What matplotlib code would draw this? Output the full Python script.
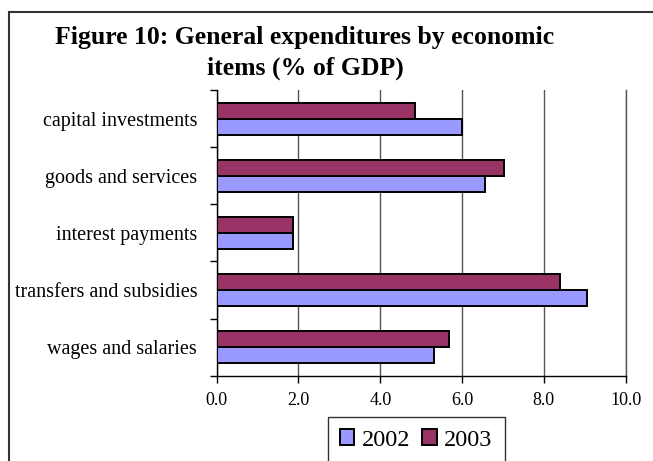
import numpy as np
import matplotlib.pyplot as plt
from matplotlib.patches import Rectangle

# datos
categorias = ["capital investments", "goods and services", "interest payments",
              "transfers and subsidies", "wages and salaries"]
v2002 = [6.0, 6.56, 1.87, 9.06, 5.31]
v2003 = [4.85, 7.02, 1.87, 8.39, 5.67]
ticks_x = [0, 2, 4, 6, 8, 10]

plt.rcParams['font.family'] = ['Liberation Serif', 'DejaVu Serif']

fig = plt.figure(figsize=(6.53, 4.61), dpi=100)
ax = fig.add_axes([0.3318, 0.185, 0.6264, 0.6197])

y = np.arange(len(categorias))
h = 0.28
ax.barh(y + h / 2, v2002, height=h, color="#9999FF", edgecolor="black", linewidth=1.4, label="2002", zorder=3)
ax.barh(y - h / 2, v2003, height=h, color="#993366", edgecolor="black", linewidth=1.4, label="2003", zorder=3)

ax.set_xlim(0, 10)
ax.set_ylim(len(categorias) - 0.5, -0.5)
ax.set_xticks(ticks_x)
ax.set_xticklabels([f"{t:.1f}" for t in ticks_x], fontsize=13)
ax.tick_params(axis='x', length=5, width=1, pad=7)

# marcas en los limites de categoria, etiquetas en el centro
ax.set_yticks(np.arange(-0.5, len(categorias)), minor=False)
ax.set_yticklabels([])
ax.set_yticks(y, minor=True)
ax.set_yticklabels(categorias, minor=True, fontsize=14.5)
ax.tick_params(axis='y', which='major', length=5, width=1)
ax.tick_params(axis='y', which='minor', length=0, pad=14)

ax.grid(axis='x', color="#555555", linewidth=1, zorder=0)
ax.spines['top'].set_visible(False)
ax.spines['right'].set_color("#555555")
ax.spines['right'].set_linewidth(1)
ax.spines['left'].set_linewidth(1)
ax.spines['bottom'].set_linewidth(1)

fig.text(0.467, 0.943, "Figure 10: General expenditures by economic\nitems (% of GDP)",
         ha="center", va="top", fontsize=18.5, fontweight="bold", linespacing=1.38)

leg = fig.legend(loc="upper left", bbox_to_anchor=(327.7 / 653, 1 - 417.3 / 461), fontsize=17.5,
                 frameon=True, fancybox=False, edgecolor="black", ncol=2, handlelength=0.6,
                 handleheight=0.6, handletextpad=0.3, columnspacing=0.5, borderpad=0.5,
                 borderaxespad=0)
leg.get_frame().set_linewidth(1)

# marco exterior del grafico (recortado a la derecha y abajo)
fig.add_artist(Rectangle((9 / 653, -0.1), 1.2, 1.1 - 12 / 461, transform=fig.transFigure,
                         fill=False, edgecolor="#333333", linewidth=1.5, clip_on=False))

plt.savefig("out.png", dpi=100)
